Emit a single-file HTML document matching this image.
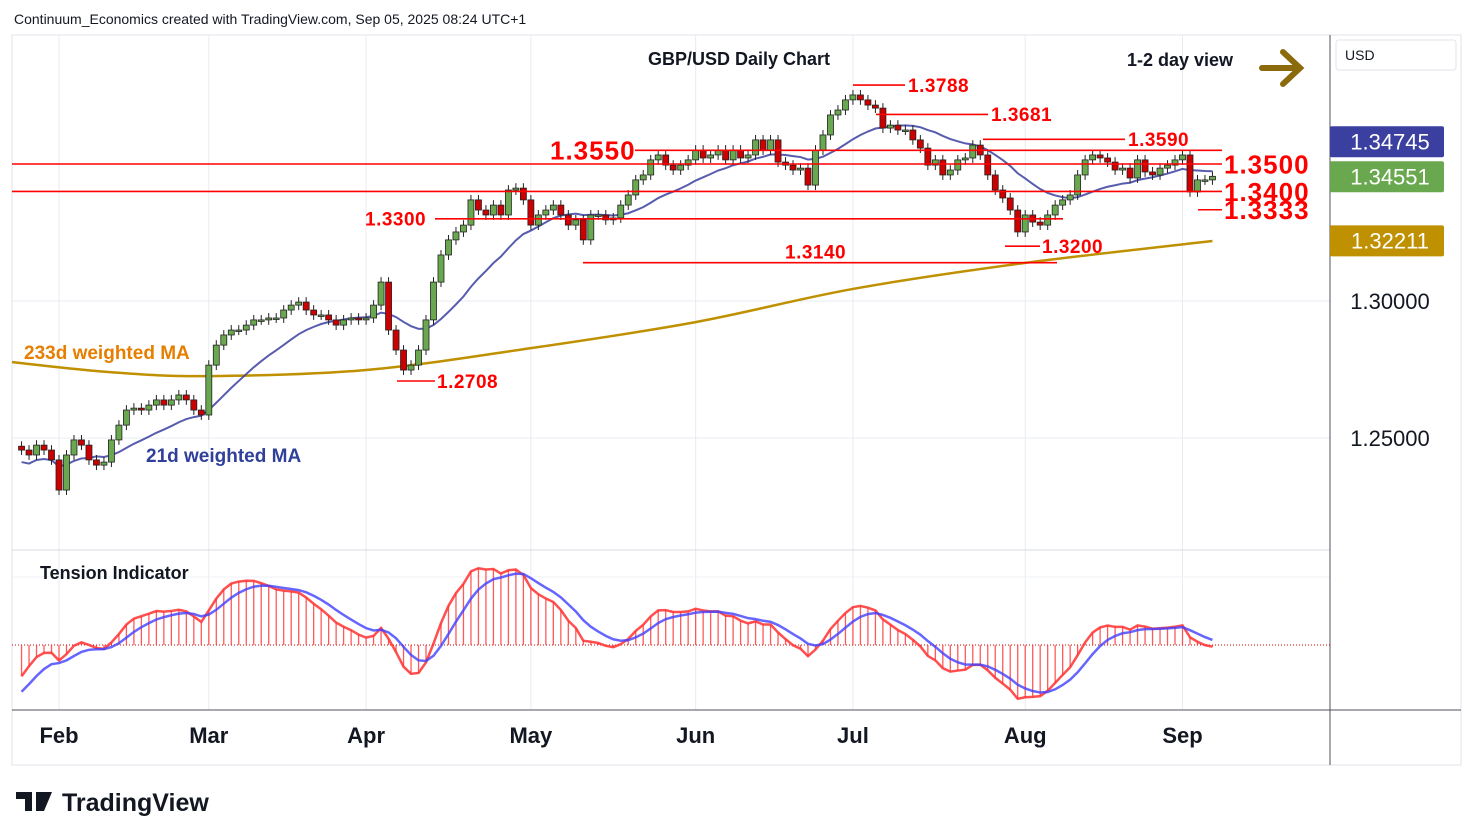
<!DOCTYPE html>
<html><head><meta charset="utf-8">
<style>
body{margin:0;background:#fff;width:1474px;height:840px;overflow:hidden;font-family:"Liberation Sans",sans-serif;}
svg{position:absolute;left:0;top:0}
</style></head>
<body>
<svg id="c" width="1474" height="840" xmlns="http://www.w3.org/2000/svg"></svg>
<script>
// ---- data ----
const monthLabels = ["Feb","Mar","Apr","May","Jun","Jul","Aug","Sep"];
const monthStartIdx = [5,25,46,68,90,111,134,155];
const closes = [
1.2456,1.2438,1.2474,1.2456,1.2420,
1.2310,1.2438,1.2493,1.2474,1.2420,1.2401,1.2412,1.2493,1.2547,1.2602,1.2609,1.2602,1.2620,1.2639,1.2620,1.2639,1.2657,1.2639,1.2602,1.2584,
1.2766,1.2839,1.2876,1.2894,1.2894,1.2912,1.2931,1.2931,1.2938,1.2938,1.2967,1.2985,1.2996,1.2967,1.2949,1.2949,1.2931,1.2912,1.2931,1.2938,1.2931,
1.2938,1.2985,1.3069,1.2894,1.2821,1.2748,1.2766,1.2821,1.2931,1.3069,1.3168,1.3223,1.3252,1.3277,1.3369,1.3332,1.3314,1.3350,1.3314,1.3405,1.3412,1.3369,
1.3277,1.3314,1.3332,1.3350,1.3314,1.3277,1.3296,1.3223,1.3314,1.3314,1.3296,1.3303,1.3350,1.3387,1.3442,1.3460,1.3515,1.3533,1.3496,1.3478,1.3496,1.3515,
1.3551,1.3522,1.3533,1.3551,1.3515,1.3551,1.3522,1.3533,1.3588,1.3551,1.3588,1.3507,1.3496,1.3478,1.3485,1.3423,1.3551,1.3606,1.3679,1.3697,1.3734,
1.3752,1.3734,1.3715,1.3704,1.3631,1.3642,1.3624,1.3624,1.3588,1.3558,1.3496,1.3515,1.3460,1.3478,1.3515,1.3522,1.3569,1.3533,1.3460,1.3405,1.3376,1.3332,1.3252,
1.3314,1.3288,1.3277,1.3314,1.3350,1.3369,1.3387,1.3460,1.3515,1.3533,1.3522,1.3507,1.3478,1.3485,1.3449,1.3515,1.3471,1.3460,1.3485,1.3496,1.3515,
1.3533,1.3398,1.3442,1.3442,1.3455
];
const ma233Values = [1.2777,1.2740,1.2726,1.2748,1.2828,1.2923,1.3044,1.3139,1.3219];
const ma233Idx = [0,12,25,46,68,90,111,134,159];
const levels = [
 {p:1.3500,x1:12,x2:1222,lab:"1.3500",lx:1224,big:true},
 {p:1.3400,x1:12,x2:1222,lab:"1.3400",lx:1224,big:true},
 {p:1.3550,x1:635,x2:1222,lab:"1.3550",lx:550,big:true,left:true},
 {p:1.3333,x1:1198,x2:1222,lab:"1.3333",lx:1224,big:true},
 {p:1.3300,x1:435,x2:1063,lab:"1.3300",lx:365,left:true},
 {p:1.3140,x1:583,x2:1057,lab:"1.3140",lx:785,above:true},
 {p:1.3200,x1:1005,x2:1040,lab:"1.3200",lx:1042},
 {p:1.3788,x1:853,x2:905,lab:"1.3788",lx:908},
 {p:1.3681,x1:876,x2:988,lab:"1.3681",lx:991},
 {p:1.3590,x1:983,x2:1125,lab:"1.3590",lx:1128},
 {p:1.2708,x1:397,x2:435,lab:"1.2708",lx:437}
];
const priceTicks = [1.30,1.25];
const badgeValues = [1.34745,1.34551,1.32211];

// ---- scales ----
const xOf = i => 59 + (i-5)*7.49;
const yOf = p => 301 - (p-1.30)*2740;
const tZero = 645, tScale = 2600;
const yT = v => tZero - v*tScale;

const svg = document.getElementById('c');
const NS="http://www.w3.org/2000/svg";
function el(tag, attrs, parent){const e=document.createElementNS(NS,tag);for(const k in attrs)e.setAttribute(k,attrs[k]);(parent||svg).appendChild(e);return e;}
function txt(s, attrs){const t=el('text',attrs);t.textContent=s;return t;}

let g;
g=el('rect',{x:12,y:35,width:1449,height:730,fill:'none',stroke:'#e0e3eb'});


monthStartIdx.forEach((idx,k)=>{
  const l=el('line',{x1:xOf(idx),x2:xOf(idx),y1:35,y2:710,stroke:'#e8ebf2'});
  
  
});
priceTicks.forEach(p=>{
  const l=el('line',{x1:12,x2:1330,y1:yOf(p),y2:yOf(p),stroke:'#e8ebf2'});
  
  
});
el('line',{x1:12,x2:1330,y1:550,y2:550,stroke:'#d8dbe3'});
el('line',{x1:12,x2:1330,y1:577,y2:577,stroke:'#eef0f5'});
el('line',{x1:12,x2:1461,y1:710,y2:710,stroke:'#50535e'});
el('line',{x1:1330,x2:1330,y1:35,y2:765,stroke:'#50535e'});

g=txt("Continuum_Economics created with TradingView.com, Sep 05, 2025 08:24 UTC+1",{x:14,y:24,'font-size':14,fill:'#131722'});


g=txt("GBP/USD Daily Chart",{x:739,y:65,'font-size':18,'font-weight':'bold','text-anchor':'middle',fill:'#131722'});


g=txt("1-2 day view",{x:1180,y:66,'font-size':18,'font-weight':'bold','text-anchor':'middle',fill:'#131722'});


g=el('path',{d:'M1262 68 H1298 M1283 52 L1300 68 L1283 84',stroke:'#8a6a0a','stroke-width':6,fill:'none','stroke-linecap':'round'});



g=el('rect',{x:1336,y:40,width:120,height:30,rx:3,fill:'#fff',stroke:'#e0e3eb'});


txt("USD",{x:1345,y:60,'font-size':14,fill:'#131722'});

priceTicks.forEach(p=>{
  const t=txt(p.toFixed(5),{x:1390,y:yOf(p)+8,'font-size':22,'text-anchor':'middle',fill:'#131722'});
  
  
});

monthStartIdx.forEach((idx,k)=>{
  const t=txt(monthLabels[k],{x:xOf(idx),y:743,'font-size':22,'font-weight':'bold','text-anchor':'middle',fill:'#131722'});
  
  
});

// 233 MA (smooth)
let pts=ma233Values.map((v,k)=>[k===0?12:xOf(ma233Idx[k]),yOf(v)]);
let d='M'+pts[0][0]+' '+pts[0][1];
for(let k=0;k<pts.length-1;k++){
  const p0=pts[k-1]||pts[k],p1=pts[k],p2=pts[k+1],p3=pts[k+2]||p2;
  d+=' C'+(p1[0]+(p2[0]-p0[0])/6)+' '+(p1[1]+(p2[1]-p0[1])/6)+' '+(p2[0]-(p3[0]-p1[0])/6)+' '+(p2[1]-(p3[1]-p1[1])/6)+' '+p2[0]+' '+p2[1];
}
g=el('path',{d:d,stroke:'#bf9000','stroke-width':2.5,fill:'none'});



// WMA21
const wma=closes.map((c,i)=>{let s=0,w=0;for(let k=0;k<21&&i-k>=0;k++){const ww=21-k;s+=closes[i-k]*ww;w+=ww;}return s/w;});
d='';
wma.forEach((v,i)=>{d+=(i?'L':'M')+xOf(i)+' '+(yOf(v)+(i<10?12-i:0));});
g=el('path',{d:d,stroke:'#3a3fa0','stroke-width':2,fill:'none','stroke-opacity':0.85});



// candles
closes.forEach((c,i)=>{
  const o=i?closes[i-1]:1.2470;
  const up=c>=o;
  const x=xOf(i);
  const hi=Math.max(o,c)+0.0018, lo=Math.min(o,c)-0.0018;
  const w=el('line',{x1:x,x2:x,y1:yOf(hi),y2:yOf(lo),stroke:'#222','stroke-width':1});
  
  
  const top=yOf(Math.max(o,c)), h=Math.max(1.5,Math.abs(yOf(o)-yOf(c)));
  const b=el('rect',{x:x-3,y:top,width:6,height:h,fill:up?'#6aa84f':'#cc0000',stroke:'#222','stroke-width':0.8});
  
  
});

// levels
levels.forEach(L=>{
  const y=yOf(L.p);
  const l=el('line',{x1:L.x1,x2:L.x2,y1:y,y2:y,stroke:'#ff0000','stroke-width':1.6});
  
  
  const fs=L.big?26:19;
  const ty=L.above?y-4:y+fs*0.36;
  const t=txt(L.lab,{x:L.lx,y:ty,'font-size':fs,'font-weight':'bold',fill:'#ff0000','letter-spacing':L.big?1:0.5});
  
  
});

g=txt("233d weighted MA",{x:24,y:359,'font-size':19,'font-weight':'bold',fill:'#e67e00'});


g=txt("21d weighted MA",{x:146,y:462,'font-size':19,'font-weight':'bold',fill:'#2f3f9a'});



// right price badges (stacked to avoid overlap, like TradingView)
const badgeColors=['#3a3fa0','#6aa84f','#bf9000'];
const badgeNames=['last-wma-badge','last-price-badge','last-ma233-badge'];
let prevY=-1e9;
badgeValues.forEach((v,k)=>{
  let y=yOf(v);
  if(k===0) y=Math.min(y,yOf(badgeValues[1])-35);
  if(y<prevY+35) y=prevY+35;
  prevY=y;
  const r=el('rect',{x:1330,y:y-15,width:114,height:31,rx:2,fill:badgeColors[k]});
  
  
  txt(v.toFixed(5),{x:1390,y:y+8,'font-size':22,'text-anchor':'middle',fill:'#fff'});
});

// tension indicator
const sma=closes.map((c,i)=>{let s=0,n=0;for(let k=0;k<21&&i-k>=0;k++){s+=closes[i-k];n++;}return s/n;});
let e=0; const tens=closes.map((c,i)=>{const r=c-sma[i];e=i?e+(r-e)*0.35:r-0.012;return e;});
let s2=tens[0]-0.006; const sig=tens.map((v,i)=>{s2=i?s2+(v-s2)*0.3:s2;return s2;});
el('line',{x1:12,x2:1330,y1:tZero,y2:tZero,stroke:'#cc0000','stroke-dasharray':'1 2'});
tens.forEach((v,i)=>{
  const b=el('line',{x1:xOf(i),x2:xOf(i),y1:tZero,y2:yT(v),stroke:'#ff3030','stroke-width':1.3,'stroke-opacity':0.8});
  
  
});
d='';tens.forEach((v,i)=>{d+=(i?'L':'M')+xOf(i)+' '+yT(v);});
g=el('path',{d:d,stroke:'#ff3030','stroke-width':2.5,fill:'none','stroke-opacity':0.85});


d='';sig.forEach((v,i)=>{d+=(i?'L':'M')+xOf(i)+' '+yT(v);});
g=el('path',{d:d,stroke:'#4040ff','stroke-width':2.5,fill:'none','stroke-opacity':0.8});


g=txt("Tension Indicator",{x:40,y:579,'font-size':18,'font-weight':'bold',fill:'#131722'});



g=txt("TradingView",{x:62,y:811,'font-size':25,'font-weight':'bold',fill:'#131722'});


el('path',{d:'M16 792 H32 V811 H25 V799 H16 Z M36 792 H52 L44 811 H36 Z',fill:'#131722'});
</script>
</body></html>
